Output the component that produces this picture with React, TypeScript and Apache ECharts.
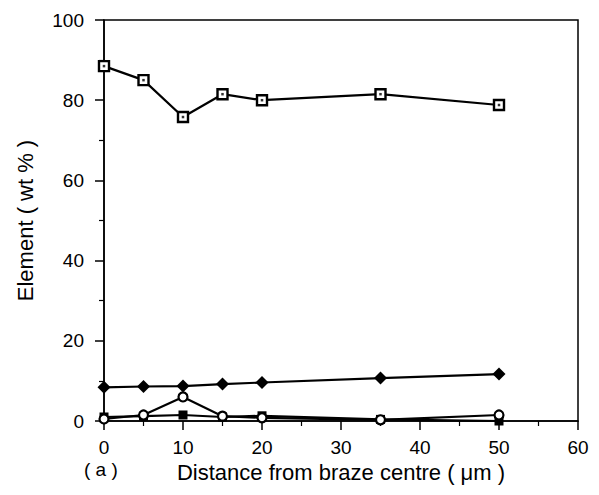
import React, { useEffect, useRef } from "react";
import * as echarts from "echarts";

// Distance from braze centre (µm)
const distance = [0, 5, 10, 15, 20, 35, 50];

// Element content (wt %) along the profile
const seriesOpenSquare = [88.5, 85, 75.8, 81.5, 80, 81.5, 78.8];
const seriesFilledDiamond = [8.4, 8.6, 8.7, 9.2, 9.6, 10.7, 11.7];
const seriesOpenCircle = [0.5, 1.5, 6, 1.2, 0.8, 0.3, 1.5];
const seriesFilledSquare = [1, 1.2, 1.5, 1, 1.3, 0.4, 0];

const xTicks = [0, 10, 20, 30, 40, 50, 60];
const yTicks = [0, 20, 40, 60, 80, 100];

const FONT = "Liberation Sans, Arial, sans-serif";

const pairs = (ys: number[]) => distance.map((x, i) => [x, ys[i]]);

export default function App() {
  const ref = useRef<HTMLDivElement>(null);

  useEffect(() => {
    if (!ref.current) return;
    const chart = echarts.init(ref.current, undefined, { renderer: "svg" });

    const lineBase = {
      type: "line" as const,
      lineStyle: { color: "#000", width: 2.2 },
      emphasis: { disabled: true },
      z: 2,
    };

    const axisCommon = {
      type: "value" as const,
      nameLocation: "middle" as const,
      nameTextStyle: { color: "#000", fontSize: 22, fontFamily: FONT },
      axisLine: { show: true, lineStyle: { color: "#000", width: 1.5 } },
      axisTick: { show: true, inside: false, length: 9, lineStyle: { color: "#000", width: 1.5 } },
      minorTick: { show: true, splitNumber: 2, length: 5, lineStyle: { color: "#000", width: 1.2 } },
      splitLine: { show: false },
    };

    chart.setOption({
      animation: false,
      backgroundColor: "#fff",
      grid: {
        left: 104,
        right: 21,
        top: 20,
        bottom: 74,
        show: true,
        borderColor: "#000",
        borderWidth: 1.5,
        backgroundColor: "transparent",
      },
      xAxis: {
        ...axisCommon,
        min: xTicks[0],
        max: xTicks[xTicks.length - 1],
        interval: 10,
        name: "Distance from braze centre ( \u03bcm )",
        nameGap: 39,
        axisLabel: { color: "#000", fontSize: 19, fontFamily: FONT, margin: 17 },
      },
      yAxis: {
        ...axisCommon,
        min: yTicks[0],
        max: yTicks[yTicks.length - 1],
        interval: 20,
        name: "Element ( wt % )",
        nameGap: 68,
        axisLabel: { color: "#000", fontSize: 19, fontFamily: FONT, margin: 20 },
      },
      graphic: [
        {
          type: "text",
          left: 84,
          top: 460,
          style: { text: "( a )", fill: "#000", font: `19px ${FONT}` },
        },
      ],
      series: [
        {
          ...lineBase,
          name: "filled square",
          data: pairs(seriesFilledSquare),
          symbol: "rect",
          symbolSize: 9,
          itemStyle: { color: "#000" },
        },
        {
          ...lineBase,
          name: "open circle",
          data: pairs(seriesOpenCircle),
          symbol: "circle",
          symbolSize: 9,
          itemStyle: { color: "#fff", borderColor: "#000", borderWidth: 2.2 },
        },
        {
          ...lineBase,
          name: "filled diamond",
          data: pairs(seriesFilledDiamond),
          symbol: "diamond",
          symbolSize: 13,
          itemStyle: { color: "#000" },
        },
        {
          ...lineBase,
          name: "open square",
          data: pairs(seriesOpenSquare),
          symbol: "rect",
          symbolSize: 10,
          itemStyle: { color: "#fff", borderColor: "#000", borderWidth: 2.4 },
        },
        {
          type: "scatter",
          name: "open square centre",
          data: pairs(seriesOpenSquare),
          symbol: "rect",
          symbolSize: 2.5,
          itemStyle: { color: "#000" },
          emphasis: { disabled: true },
          z: 3,
        },
      ],
    });

    return () => chart.dispose();
  }, []);

  return <div ref={ref} style={{ width: 599, height: 495, margin: -8 }} />;
}
